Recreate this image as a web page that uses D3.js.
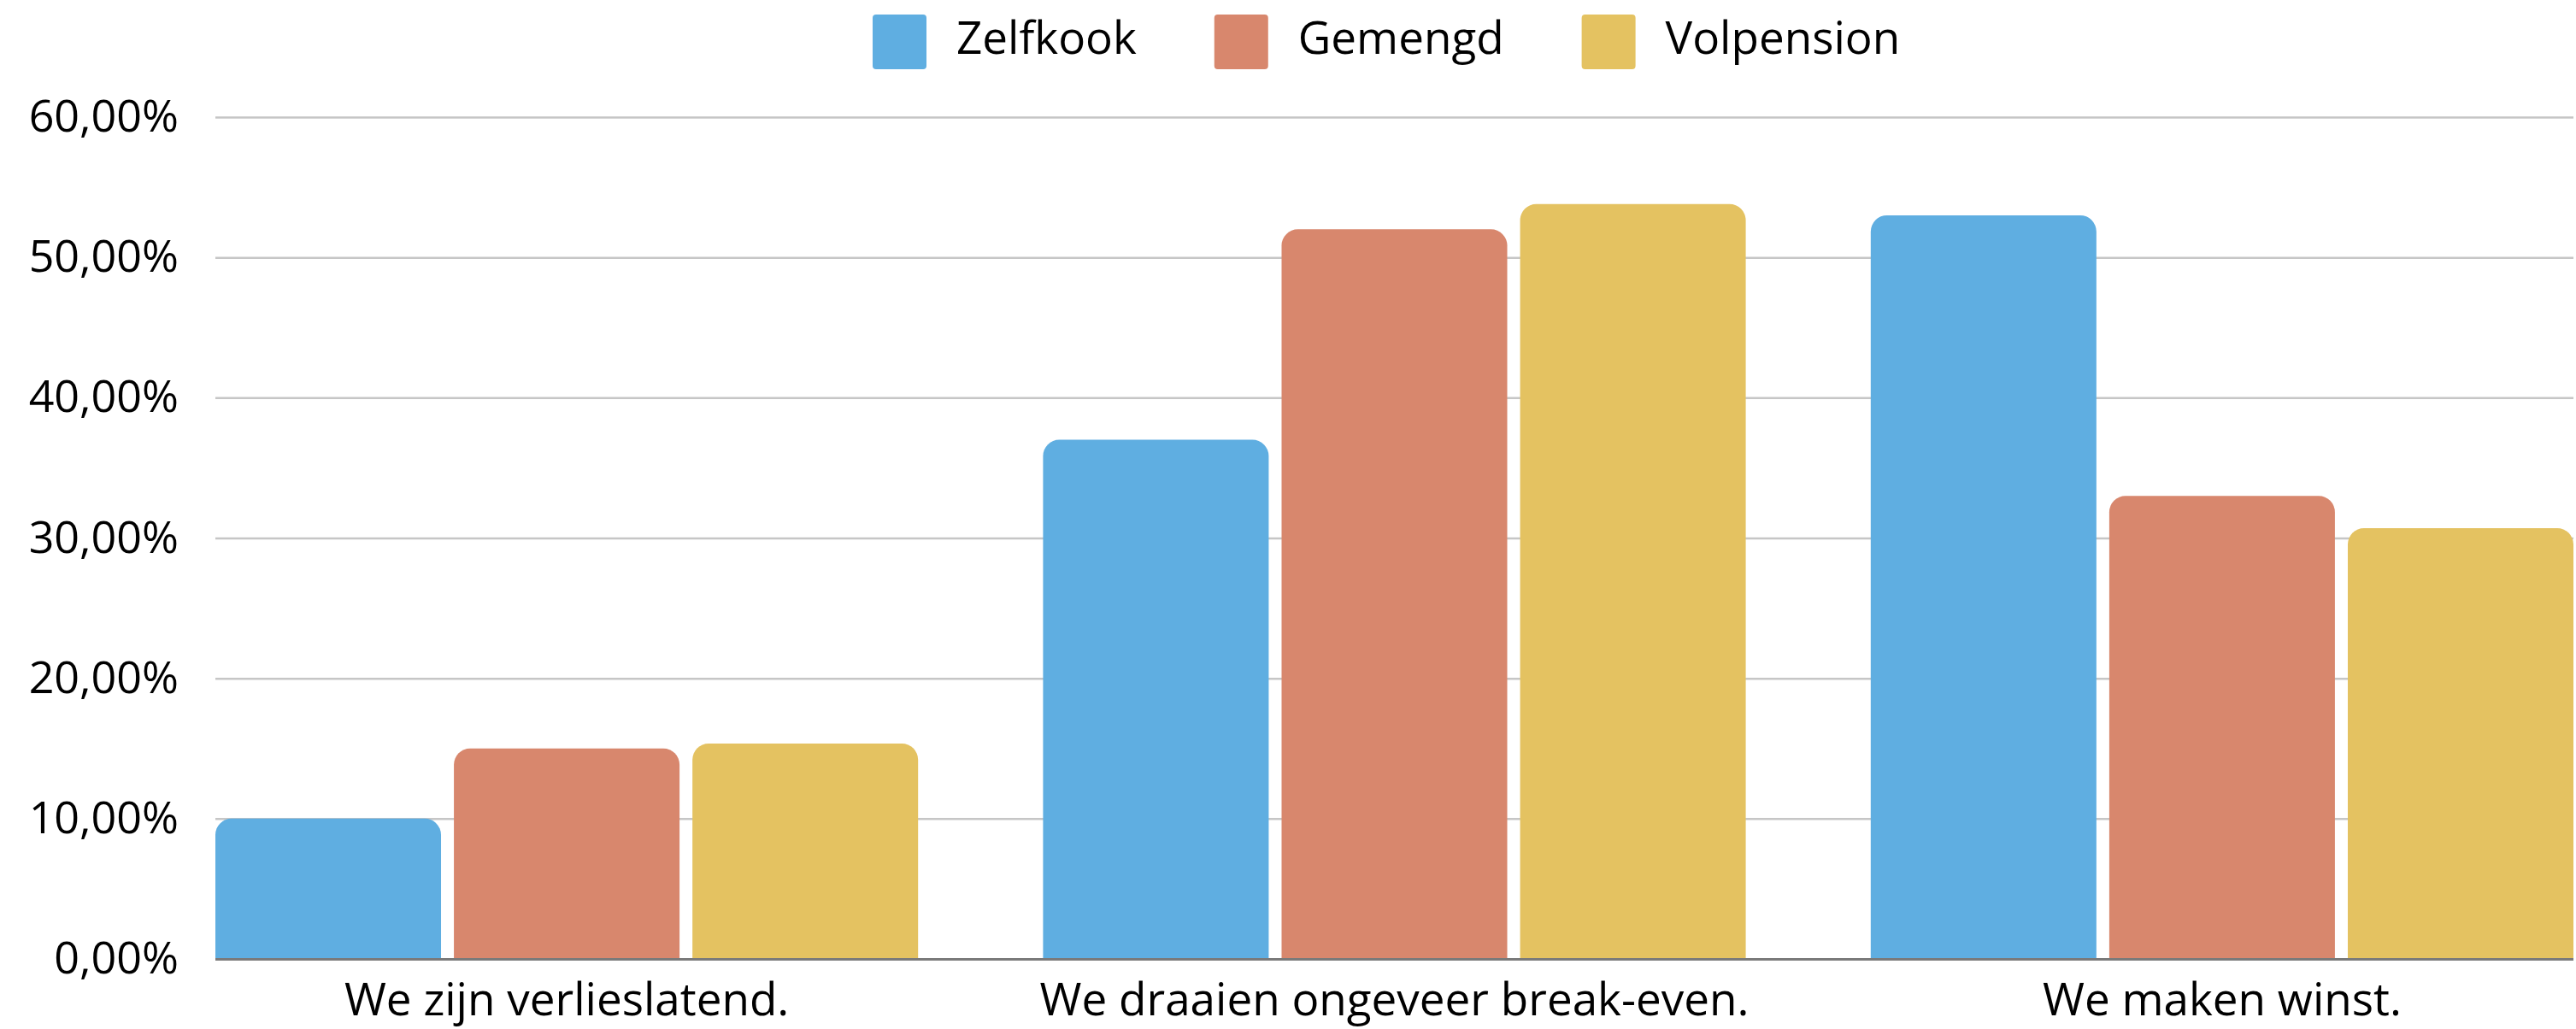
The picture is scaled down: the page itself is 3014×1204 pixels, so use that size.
<!DOCTYPE html>
<html>
<head>
<meta charset="utf-8">
<script src="https://cdn.jsdelivr.net/npm/d3@7"></script>
<style>
  body { margin: 0; background: #fff; }
  svg { display: block; font-family: "Open Sans", sans-serif; }
</style>
</head>
<body>
<svg id="chart" width="3014" height="1204"></svg>
<script>
// data
const categories = ["We zijn verlieslatend.", "We draaien ongeveer break-even.", "We maken winst."];
const seriesNames = ["Zelfkook", "Gemengd", "Volpension"];
const zelfkook = [10.0, 37.0, 53.0];
const gemengd = [15.0, 52.0, 33.0];
const volpension = [15.35, 53.8, 30.7];
const yTicks = [0, 10, 20, 30, 40, 50, 60];
const colors = ["#5FAEE1", "#D8876D", "#E4C261"];

const seriesValues = [zelfkook, gemengd, volpension];

let chartAttr = {
  "width": 3014,
  "height": 1204,
  "left": 252,
  "right": 3011,
  "top": 137,
  "bottom": 1122
};

let svg = d3.select("#chart");

let nl = d3.formatLocale({ decimal: ",", thousands: ".", grouping: [3], currency: ["€", ""] });
let pctFormat = d => nl.format(".2f")(d) + "%";

let y = d3.scaleLinear()
  .domain([0, 60])
  .range([chartAttr.bottom, chartAttr.top]);

let x0 = d3.scaleBand()
  .domain(categories)
  .range([chartAttr.left, chartAttr.right])
  .paddingInner(0.151)
  .paddingOuter(0);

let x1 = d3.scaleBand()
  .domain(seriesNames)
  .range([0, x0.bandwidth()])
  .paddingInner(0.054)
  .paddingOuter(0);

// gridlines
let grid = svg.append("g")
  .attr("transform", "translate(" + chartAttr.left + ",0)")
  .call(d3.axisLeft(y).tickValues(yTicks.slice(1)).tickSize(-(chartAttr.right - chartAttr.left)).tickFormat(""));
grid.select(".domain").remove();
grid.selectAll(".tick line")
  .style("stroke", "#c6c6c6")
  .style("stroke-width", 2.5);

// y axis labels
let yAxis = svg.append("g")
  .attr("transform", "translate(" + (chartAttr.left - 43) + ",0)")
  .call(d3.axisLeft(y).tickValues(yTicks).tickSize(0).tickPadding(0).tickFormat(pctFormat));
yAxis.select(".domain").remove();
yAxis.selectAll("text")
  .style("font-family", "'Open Sans', sans-serif")
  .style("font-size", "52px")
  .style("fill", "#000");

// bars with rounded top corners
function barPath(x, yTop, w, yBase) {
  let r = Math.min(19, w / 2, (yBase - yTop));
  return "M" + x + "," + yBase +
    "L" + x + "," + (yTop + r) +
    "A" + r + "," + r + " 0 0 1 " + (x + r) + "," + yTop +
    "L" + (x + w - r) + "," + yTop +
    "A" + r + "," + r + " 0 0 1 " + (x + w) + "," + (yTop + r) +
    "L" + (x + w) + "," + yBase + "Z";
}

categories.forEach(function(cat, ci) {
  seriesNames.forEach(function(s, si) {
    let v = seriesValues[si][ci];
    svg.append("path")
      .attr("d", barPath(x0(cat) + x1(s), y(v), x1.bandwidth(), y(0)))
      .style("fill", colors[si]);
  });
});

// baseline
svg.append("line")
  .attr("x1", chartAttr.left)
  .attr("x2", chartAttr.right)
  .attr("y1", y(0) + 0.5)
  .attr("y2", y(0) + 0.5)
  .style("stroke", "#7a7a7a")
  .style("stroke-width", 3);

// x labels
let xAxis = svg.append("g")
  .attr("transform", "translate(0," + y(0) + ")")
  .call(d3.axisBottom(x0).tickSize(0).tickPadding(0));
xAxis.select(".domain").remove();
xAxis.selectAll("text")
  .attr("dy", null)
  .attr("y", 66)
  .style("font-family", "'Open Sans', sans-serif")
  .style("font-size", "53px")
  .style("fill", "#000");

// legend
let legend = svg.append("g");
let lx = 1021;
seriesNames.forEach(function(s, i) {
  legend.append("rect")
    .attr("x", lx)
    .attr("y", 17)
    .attr("width", 63)
    .attr("height", 64)
    .attr("rx", 4)
    .style("fill", colors[i]);
  let t = legend.append("text")
    .attr("x", lx + 98)
    .attr("y", 63)
    .text(s)
    .style("font-size", "53px")
    .style("fill", "#000");
  lx = lx + 98 + t.node().getComputedTextLength() + 91;
});
</script>
</body>
</html>
